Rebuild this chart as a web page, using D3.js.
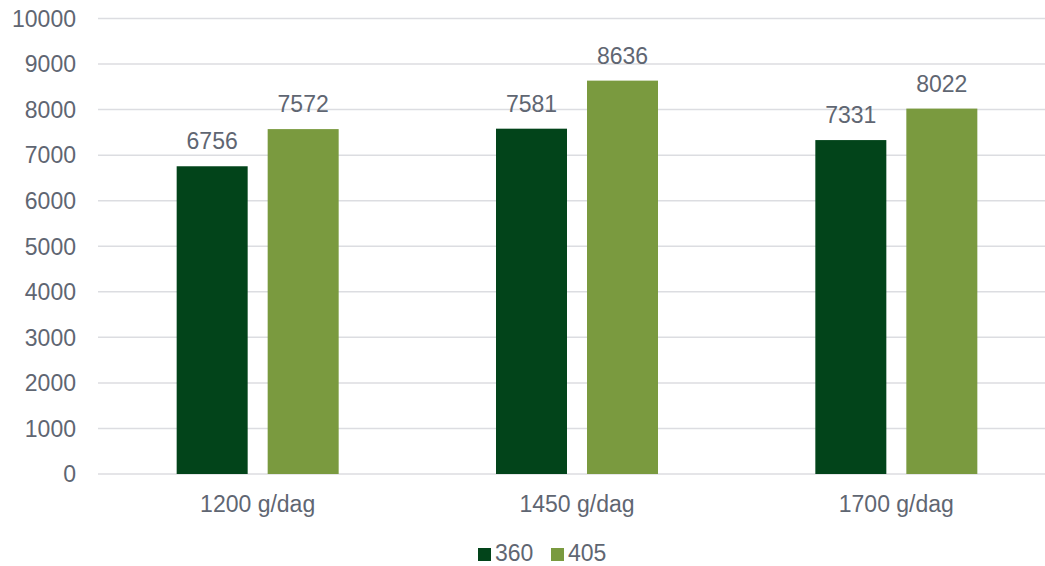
<!DOCTYPE html>
<html><head><meta charset="utf-8">
<script src="https://cdn.jsdelivr.net/npm/d3@7"></script>
<style>body{margin:0;background:#fff}svg{display:block}text{font-family:"Liberation Sans",Arial,sans-serif}</style>
</head><body><svg id="c" width="1045" height="566"></svg>
<script>
const categories = ["1200 g/dag", "1450 g/dag", "1700 g/dag"];
const seriesNames = ["360", "405"];
const values360 = [6756, 7581, 7331];
const values405 = [7572, 8636, 8022];
const yTicks = [0,1000,2000,3000,4000,5000,6000,7000,8000,9000,10000];
const colors = ["#02441A", "#7A9A3F"];

(function(){
const svg = d3.select("#c");
const pLeft = 98, pRight = 1056, pTop = 18.5, pBottom = 474;
const x = d3.scaleBand().domain(categories).range([pLeft, pRight]).paddingInner(0).paddingOuter(0);
const y = d3.scaleLinear().domain([0, 10000]).range([pBottom, pTop]);
const bw = 71, gap = 20;
const fs = 23;
const txt = "#5f6672";
svg.append("g").selectAll("line").data(yTicks).join("line")
  .attr("x1", pLeft).attr("x2", 1045)
  .attr("y1", d => y(d)).attr("y2", d => y(d))
  .attr("stroke", "#dcdde1").attr("stroke-width", 1.5);
svg.append("g").selectAll("text").data(yTicks).join("text")
  .attr("x", 76).attr("y", d => y(d)).attr("dy", "0.36em")
  .attr("text-anchor", "end").attr("font-size", fs).attr("fill", txt)
  .text(d => d);

const data = categories.map((c,i) => ({c, vals:[values360[i], values405[i]]}));
const groupW = 2*bw + gap;
const g = svg.append("g").selectAll("g").data(data).join("g")
  .attr("transform", d => `translate(${x(d.c) + (x.bandwidth()-groupW)/2},0)`);
g.selectAll("rect").data(d => d.vals.map((v,j)=>({v,j}))).join("rect")
  .attr("x", d => d.j*(bw+gap)).attr("width", bw)
  .attr("y", d => y(d.v)).attr("height", d => pBottom - y(d.v))
  .attr("fill", d => colors[d.j]);
g.selectAll("text").data(d => d.vals.map((v,j)=>({v,j}))).join("text")
  .attr("x", d => d.j*(bw+gap) + bw/2).attr("y", d => y(d.v) - 17)
  .attr("text-anchor", "middle").attr("font-size", fs).attr("fill", txt)
  .text(d => d.v);

svg.append("g").selectAll("text").data(categories).join("text")
  .attr("x", d => x(d) + x.bandwidth()/2).attr("y", 512)
  .attr("text-anchor", "middle").attr("font-size", fs).attr("fill", txt)
  .text(d => d);

const lg = svg.append("g");
const legX = [478, 551];
seriesNames.forEach((s,i) => {
  lg.append("rect").attr("x", legX[i]).attr("y", 548).attr("width", 13).attr("height", 13).attr("fill", colors[i]);
  lg.append("text").attr("x", legX[i]+17).attr("y", 560.5)
    .attr("font-size", fs).attr("fill", txt).text(s);
});
})();
</script></body></html>
